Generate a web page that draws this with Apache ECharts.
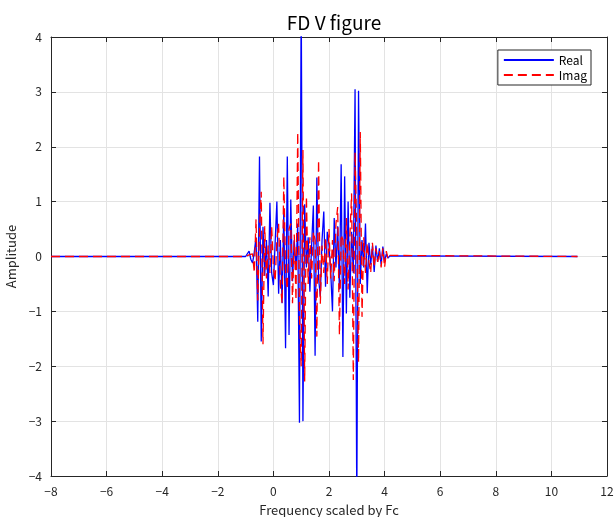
<!DOCTYPE html>
<html>
<head>
<meta charset="utf-8">
<script src="https://cdn.jsdelivr.net/npm/echarts@6/dist/echarts.min.js"></script>
<style>
html,body{margin:0;padding:0;background:#fff;}
#chart{width:615px;height:517px;}
</style>
</head>
<body>
<div id="chart"></div>
<script>
// sample grid of the active band (frequency scaled by Fc)
const bandStart = -1.0;
const bandStep = 0.0625;
// flat zero segments at the ends of the trace
const flatLeft = [-8, 0];
const flatRight = [10.9375, 0];

const realVals = [
  0, 0.02, 0.1, -0.05, -0.12, 0.08, 0.35, -1.19, 1.82, -1.55,
  0.54, -0.35, 0.3, -0.73, 0.98, -0.3, -0.52, 0.25, 1.0, -0.68,
  0.3, -0.85, 0.85, -1.67, 1.82, -1.43, 1.04, -0.45, 0.3, -0.25,
  0.6, -3.03, 4.8, -3.0, 0.95, -0.2, 0.35, -0.64, 0.2, 0.93,
  -1.81, 1.44, -0.4, -0.73, 0.3, 0.82, -0.55, 0.45, 0.2, -0.3,
  -1.0, 0.7, -0.2, 0.55, -0.6, 1.68, -1.83, 1.46, -1.04, 1.0,
  -0.75, 0.45, -0.3, 3.05, -4.6, 3.02, -0.5, 0.3, -0.2, 0.6,
  -0.67, 0.25, -0.15, 0.2, -0.28, 0.2, -0.1, 0.15, -0.15, 0.18,
  -0.1, 0.05, -0.03, 0.01, 0
];
const imagVals = [
  0, -0.02, 0.03, 0.0, 0.05, -0.3, 0.68, -0.8, 0.5, 1.18,
  -1.6, 0.55, -0.4, 0.2, -0.3, 0.55, -0.2, -0.45, 0.3, 0.6,
  -0.5, -0.85, 1.46, -0.3, -0.6, 0.5, 0.6, -0.85, 0.4, -0.8,
  2.27, -1.1, -2.0, 1.94, -2.28, 1.1, -0.5, 0.35, -0.4, 0.45,
  0.3, -1.46, 1.76, -0.86, 0.2, -0.3, 0.35, -0.5, 0.5, -0.4,
  0.3, -0.45, 0.6, 0.9, -1.43, 0.4, 0.3, -0.5, 0.7, -0.6,
  0.35, 1.15, -2.25, 1.9, 0.4, -1.93, 2.27, -1.1, 0.35, -0.3,
  0.25, -0.1, -0.3, 0.25, -0.2, 0.15, -0.1, 0.1, -0.2, 0.15,
  -0.2, 0.1, -0.05, 0.02, 0
];
const seriesNames = ['Real', 'Imag'];
const xTicks = {min: -8, max: 12, interval: 2};
const yTicks = {min: -4, max: 4, interval: 1};

function buildSeries(vals) {
  const pts = [flatLeft.slice()];
  for (let i = 0; i < vals.length; i++) {
    pts.push([bandStart + i * bandStep, vals[i]]);
  }
  pts.push(flatRight.slice());
  return pts;
}

const FONT = '"Noto Sans CJK JP", "Noto Sans", sans-serif';
const AX = '#262626';
const fmt = v => String(v).replace('-', '\u2212');

const chart = echarts.init(document.getElementById('chart'), null, {renderer: 'canvas'});
const lineAx = {show: true, onZero: false, lineStyle: {color: AX, width: 1}};
const tickAx = {show: true, inside: true, length: 5, lineStyle: {color: AX}};
const labelAx = {color: AX, fontFamily: FONT, fontSize: 12, formatter: fmt, margin: 9};
const gridLine = {show: true, lineStyle: {color: '#e3e3e3', width: 1}};
chart.setOption({
  animation: false,
  backgroundColor: '#fff',
  title: {
    text: 'FD V figure', left: 329, top: 8, textAlign: 'center',
    textStyle: {fontFamily: FONT, fontSize: 19, fontWeight: 'normal', color: '#000'}
  },
  grid: {left: 51, right: 8, top: 37, bottom: 41, containLabel: false, outerBoundsMode: 'none'},
  legend: {
    data: seriesNames,
    orient: 'vertical', right: 24, top: 50,
    padding: [4, 4, 4, 5], itemGap: 3, itemWidth: 50, itemHeight: 12,
    borderColor: AX, borderWidth: 1, backgroundColor: '#fff', borderRadius: 0,
    itemStyle: {opacity: 0},
    textStyle: {fontFamily: FONT, fontSize: 12, color: '#000'}
  },
  xAxis: [
    {
      type: 'value', min: xTicks.min, max: xTicks.max, interval: xTicks.interval,
      axisLine: lineAx, axisTick: tickAx, splitLine: gridLine, axisLabel: labelAx,
      name: 'Frequency scaled by Fc', nameLocation: 'middle', nameGap: 28,
      nameTextStyle: {fontFamily: FONT, fontSize: 13, color: AX}
    },
    {
      type: 'value', position: 'top', min: xTicks.min, max: xTicks.max, interval: xTicks.interval,
      axisLine: lineAx, axisTick: tickAx, axisLabel: {show: false}, splitLine: {show: false}
    }
  ],
  yAxis: [
    {
      type: 'value', min: yTicks.min, max: yTicks.max, interval: yTicks.interval,
      axisLine: lineAx, axisTick: tickAx, splitLine: gridLine, axisLabel: labelAx,
      name: 'Amplitude', nameLocation: 'middle', nameGap: 29,
      nameTextStyle: {fontFamily: FONT, fontSize: 13, color: AX}
    },
    {
      type: 'value', position: 'right', min: yTicks.min, max: yTicks.max, interval: yTicks.interval,
      axisLine: lineAx, axisTick: tickAx, axisLabel: {show: false}, splitLine: {show: false}
    }
  ],
  series: [
    {
      name: seriesNames[0], type: 'line', data: buildSeries(realVals),
      symbol: 'none', clip: true, color: '#0000ff',
      lineStyle: {color: '#0000ff', width: 1.3}
    },
    {
      name: seriesNames[1], type: 'line', data: buildSeries(imagVals),
      symbol: 'none', clip: true, color: '#ff0000',
      lineStyle: {color: '#ff0000', width: 1.3, type: [9, 5]}
    }
  ]
});
</script>
</body>
</html>
